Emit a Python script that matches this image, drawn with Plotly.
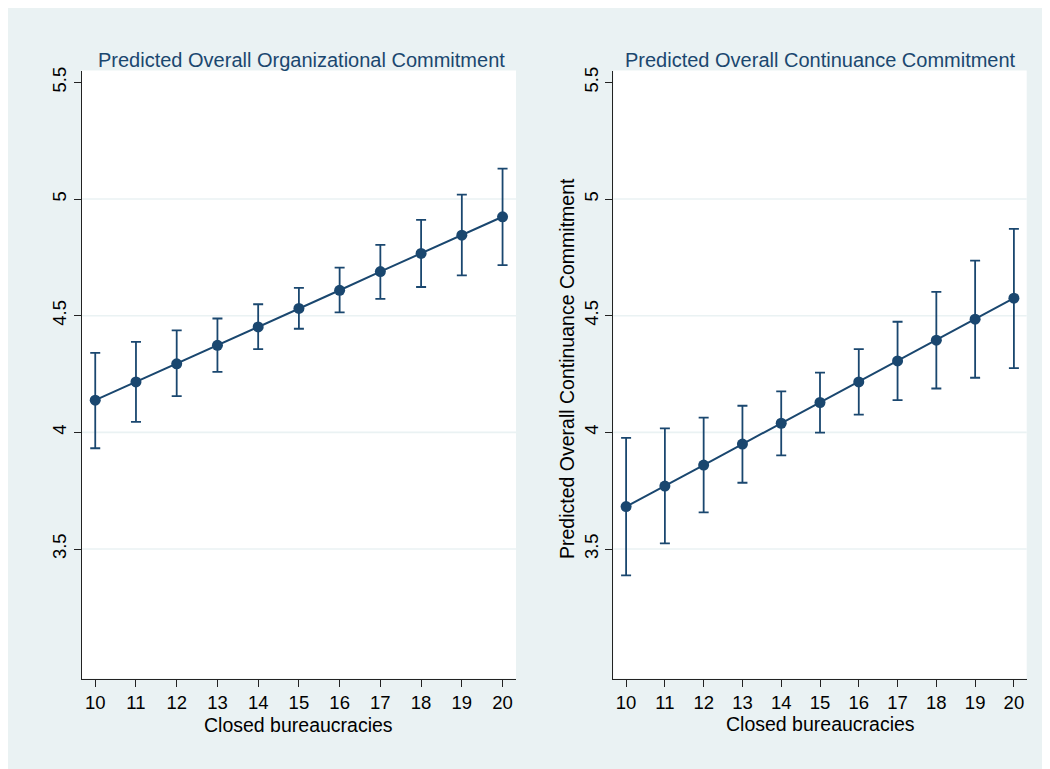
import plotly.graph_objects as go

# ---- data ----
x_vals = [10, 11, 12, 13, 14, 15, 16, 17, 18, 19, 20]
x_ticklabels = ["10", "11", "12", "13", "14", "15", "16", "17", "18", "19", "20"]
y_tickvals = [3.5, 4, 4.5, 5, 5.5]
y_ticklabels = ["3.5", "4", "4.5", "5", "5.5"]
grid_vals = [3.5, 4, 4.5, 5]

org_mean = [4.138, 4.216, 4.294, 4.373, 4.452, 4.531, 4.609, 4.689, 4.767, 4.845, 4.924]
org_upper = [4.341, 4.388, 4.437, 4.488, 4.549, 4.619, 4.706, 4.804, 4.911, 5.019, 5.130]
org_lower = [3.932, 4.045, 4.155, 4.259, 4.357, 4.444, 4.514, 4.572, 4.623, 4.673, 4.717]

cont_mean = [3.682, 3.770, 3.860, 3.950, 4.039, 4.128, 4.216, 4.306, 4.395, 4.485, 4.575]
cont_upper = [3.976, 4.017, 4.063, 4.114, 4.176, 4.256, 4.357, 4.474, 4.602, 4.736, 4.872]
cont_lower = [3.387, 3.524, 3.657, 3.784, 3.901, 3.999, 4.076, 4.138, 4.188, 4.234, 4.275]

title_left = "Predicted Overall Organizational Commitment"
title_right = "Predicted Overall Continuance Commitment"
x_title = "Closed bureaucracies"
y_title_right = "Predicted Overall Continuance Commitment"

# ---- styling ----
W, H = 1041, 761          # page body adds an 8px offset
NAVY = "#1a476f"
BG = "#eaf2f3"
FONT = "Liberation Sans, Arial, sans-serif"


def py(px):
    return 1 - px / H


def px_x(px):
    return px / W


fig = go.Figure()


def add_series(mean, upper, lower, xa, ya):
    fig.add_trace(go.Scatter(
        x=x_vals, y=mean, xaxis=xa, yaxis=ya,
        mode="lines+markers",
        line=dict(color=NAVY, width=2),
        marker=dict(color=NAVY, size=11),
        error_y=dict(type="data", symmetric=False,
                     array=[u - m for u, m in zip(upper, mean)],
                     arrayminus=[m - l for m, l in zip(mean, lower)],
                     color=NAVY, thickness=1.8, width=5),
        showlegend=False, hoverinfo="skip",
    ))


add_series(org_mean, org_upper, org_lower, "x", "y")
add_series(cont_mean, cont_upper, cont_lower, "x2", "y2")

ydom = [py(670.5), py(62.5)]
xaxis_common = dict(
    range=[9.67, 20.33], tickmode="array", tickvals=x_vals, ticktext=x_ticklabels,
    ticks="outside", ticklen=7, tickwidth=1.2, tickcolor="#222",
    showline=True, linecolor="#222", linewidth=1.2, mirror=False,
    showgrid=False, zeroline=False, automargin=False,
    tickfont=dict(size=18.5, color="black", family=FONT),
)
yaxis_common = dict(
    range=[2.945, 5.551], tickmode="array", tickvals=y_tickvals, ticktext=y_ticklabels,
    tickangle=-90, ticks="outside", ticklen=7, tickwidth=1.2, tickcolor="#222",
    showline=True, linecolor="#222", linewidth=1.2, mirror=False,
    showgrid=False, zeroline=False, automargin=False,
    tickfont=dict(size=18.5, color="black", family=FONT), domain=ydom,
)

shapes = []
for xr, yr in (("x domain", "y"), ("x2 domain", "y2")):
    for g in grid_vals:
        shapes.append(dict(type="line", xref=xr, yref=yr, x0=0, x1=1, y0=g, y1=g,
                           layer="below", line=dict(color=BG, width=1.6)))

fig.update_layout(
    width=W, height=H,
    margin=dict(l=0, r=0, t=0, b=0),
    paper_bgcolor=BG, plot_bgcolor="white",
    font=dict(family=FONT, color="black"),
    xaxis=dict(domain=[px_x(73.8), px_x(508)], anchor="y", **xaxis_common),
    yaxis=dict(anchor="x", **yaxis_common),
    xaxis2=dict(domain=[px_x(605.3), px_x(1018.7)], anchor="y2", **xaxis_common),
    yaxis2=dict(anchor="x2", **yaxis_common),
    shapes=shapes,
    annotations=[
        dict(text=title_left, xref="paper", yref="paper", x=px_x(293), y=py(51.5),
             xanchor="center", yanchor="middle", showarrow=False,
             font=dict(size=20, color=NAVY, family=FONT)),
        dict(text=title_right, xref="paper", yref="paper", x=px_x(812.3), y=py(51.5),
             xanchor="center", yanchor="middle", showarrow=False,
             font=dict(size=20, color=NAVY, family=FONT)),
        dict(text=x_title, xref="paper", yref="paper", x=px_x(290.5), y=py(716.5),
             xanchor="center", yanchor="middle", showarrow=False,
             font=dict(size=19.5, color="black", family=FONT)),
        dict(text=x_title, xref="paper", yref="paper", x=px_x(812), y=py(716),
             xanchor="center", yanchor="middle", showarrow=False,
             font=dict(size=19.5, color="black", family=FONT)),
        dict(text=y_title_right, xref="paper", yref="paper", x=px_x(559), y=py(361),
             xanchor="center", yanchor="middle", textangle=-90, showarrow=False,
             font=dict(size=19.5, color="black", family=FONT)),
    ],
)

fig.write_html("out.html")
